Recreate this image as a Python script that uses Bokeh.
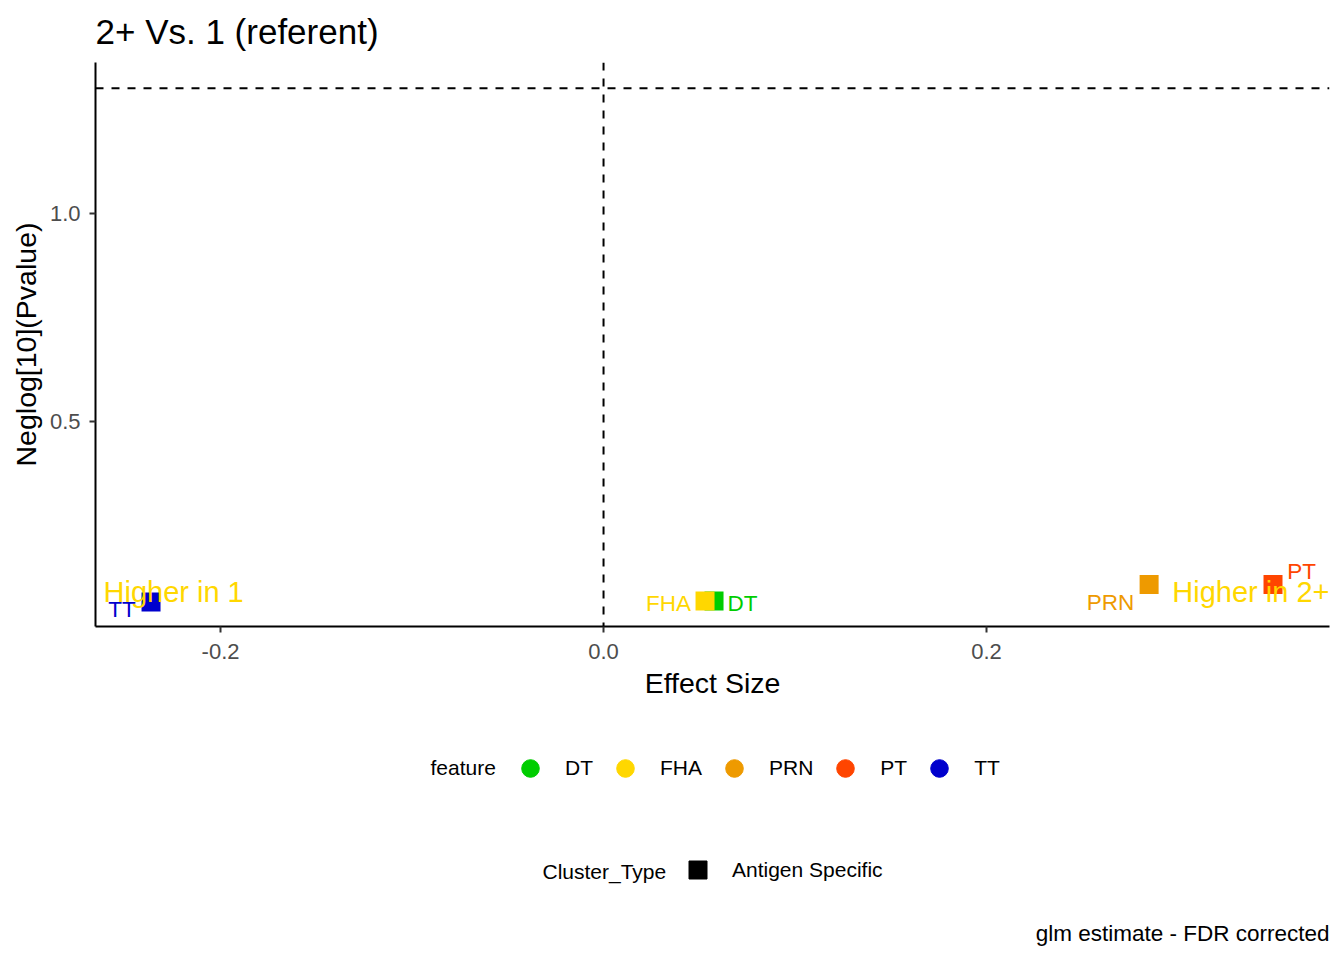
from bokeh.plotting import figure
from bokeh.models import ColumnDataSource, Range1d, Span, Label, Legend, LegendItem, FixedTicker
from bokeh.layouts import column
from bokeh.core.properties import value
from bokeh.embed import file_html
from bokeh.resources import INLINE

# ---------------- data ----------------
features = ["DT", "FHA", "PRN", "PT", "TT"]
effect_size = [0.0577, 0.0530, 0.2849, 0.3496, -0.2363]
neglog_p = [0.0685, 0.0685, 0.1082, 0.1082, 0.0661]
feature_colors = ["#00CD00", "#FFD700", "#EE9A00", "#FF4500", "#0000CD"]
cluster_types = ["Antigen Specific"]
sig_threshold = 1.30103  # -log10(0.05)
x_ticks = [-0.2, 0.0, 0.2]
x_tick_labels = ["-0.2", "0.0", "0.2"]
y_ticks = [0.5, 1.0]
y_tick_labels = ["0.5", "1.0"]
x_limits = [-0.2653, 0.3791]
y_limits = [0.0072, 1.3630]

# label offsets (pixels, repelled positions)
label_dx = [28.5, -36.5, -38.5, 28.5, -29.0]
label_dy = [2.5, 2.5, 18.0, -12.5, 8.0]

FONT = "Liberation Sans"
W = 1336
H1, H2 = 710, 242
ML, MR, MT, MB = 95, 7, 62, 84
FRAME_W = W - ML - MR
NAN = float("nan")

src = ColumnDataSource(dict(
    feature=features, x=effect_size, y=neglog_p, color=feature_colors,
    dx=label_dx, dy=label_dy,
))

p = figure(width=W, height=H1, x_range=Range1d(*x_limits), y_range=Range1d(*y_limits),
           output_backend="svg", toolbar_location=None,
           min_border_left=ML, min_border_right=MR, min_border_top=MT, min_border_bottom=MB)
p.outline_line_color = None
p.grid.visible = False
p.background_fill_color = "white"
p.border_fill_color = "white"

p.title.text = "2+ Vs. 1 (referent)"
p.title.text_font = FONT
p.title.text_font_size = "35px"
p.title.text_font_style = "normal"
p.title.text_color = "black"
p.title.align = "left"
p.title.vertical_align = "top"
p.title.offset = 0
p.title.standoff = 19

# reference lines
p.add_layout(Span(location=0.0, dimension="height", line_color="black", line_width=2, line_dash="8 8"))
p.add_layout(Span(location=sig_threshold, dimension="width", line_color="black", line_width=2, line_dash="8 8"))

# points
p.scatter(x="x", y="y", source=src, marker="square", size=19,
          fill_color="color", line_color="color", line_width=0)

# point labels
p.text(x="x", y="y", text="feature", source=src, x_offset="dx", y_offset="dy",
       text_color="color", text_font=value(FONT),
       text_font_size="22.5px", text_align="center", text_baseline="middle")

# direction annotations
p.add_layout(Label(x=8, y=35, x_units="screen", y_units="screen", text="Higher in 1",
                   text_color="#FFD700", text_font=FONT, text_font_size="29px",
                   text_align="left", text_baseline="middle"))
p.add_layout(Label(x=FRAME_W, y=35, x_units="screen", y_units="screen", text="Higher in 2+",
                   text_color="#FFD700", text_font=FONT, text_font_size="29px",
                   text_align="right", text_baseline="middle"))

# axes
p.xaxis.ticker = FixedTicker(ticks=x_ticks)
p.xaxis.major_label_overrides = {t: l for t, l in zip(x_ticks, x_tick_labels)}
p.yaxis.ticker = FixedTicker(ticks=y_ticks)
p.yaxis.major_label_overrides = {t: l for t, l in zip(y_ticks, y_tick_labels)}
p.xaxis.axis_label = "Effect Size"
p.yaxis.axis_label = "Neglog[10](Pvalue)"
for ax in (p.xaxis[0], p.yaxis[0]):
    ax.axis_line_color = "black"
    ax.axis_line_width = 2
    ax.major_tick_line_color = "#333333"
    ax.major_tick_line_width = 2
    ax.major_tick_out = 6
    ax.major_tick_in = 0
    ax.minor_tick_line_color = None
    ax.major_label_text_font = FONT
    ax.major_label_text_font_size = "22px"
    ax.major_label_text_color = "#4D4D4D"
    ax.axis_label_text_font = FONT
    ax.axis_label_text_font_size = "28.5px"
    ax.axis_label_text_font_style = "normal"
    ax.axis_label_text_color = "black"
p.xaxis.major_label_standoff = 11
p.xaxis.axis_label_standoff = 5
p.yaxis.major_label_standoff = 9
p.yaxis.axis_label_standoff = 5

# ---------------- legend / caption panel ----------------
# (frame of this panel is aligned with the main frame: x from 95 to 1329)
q = figure(width=W, height=H2, x_range=Range1d(0, 1), y_range=Range1d(0, 1),
           output_backend="svg", toolbar_location=None, min_border=0)
q.axis.visible = False
q.grid.visible = False
q.outline_line_color = None
q.background_fill_color = "white"
q.border_fill_color = "white"

feat_items = []
for f, c in zip(features, feature_colors):
    r = q.scatter(x=[NAN], y=[NAN], marker="circle", size=17, fill_color=c, line_color=c)
    feat_items.append(LegendItem(label=f, renderers=[r]))
leg1 = Legend(items=feat_items, orientation="horizontal", location=(413, 162),
              glyph_width=44, glyph_height=44, label_standoff=13, spacing=10,
              padding=0, margin=0, border_line_color=None, background_fill_alpha=0,
              label_text_font=FONT, label_text_font_size="21px", label_text_color="black")
q.add_layout(leg1)

ct_items = []
for ct in cluster_types:
    r = q.scatter(x=[NAN], y=[NAN], marker="square", size=18, fill_color="black", line_color="black")
    ct_items.append(LegendItem(label=ct, renderers=[r]))
leg2 = Legend(items=ct_items, orientation="horizontal", location=(580, 60),
              glyph_width=45, glyph_height=45, label_standoff=12, spacing=10,
              padding=0, margin=0, border_line_color=None, background_fill_alpha=0,
              label_text_font=FONT, label_text_font_size="21px", label_text_color="black")
q.add_layout(leg2)

q.add_layout(Label(x=335, y=185, x_units="screen", y_units="screen", text="feature",
                   text_font=FONT, text_font_size="21px", text_color="black",
                   text_align="left", text_baseline="middle"))
q.add_layout(Label(x=447, y=81, x_units="screen", y_units="screen", text="Cluster_Type",
                   text_font=FONT, text_font_size="21px", text_color="black",
                   text_align="left", text_baseline="middle"))
q.add_layout(Label(x=FRAME_W, y=19, x_units="screen", y_units="screen",
                   text="glm estimate - FDR corrected",
                   text_font=FONT, text_font_size="22.5px", text_color="black",
                   text_align="right", text_baseline="middle"))

layout = column(p, q, spacing=0)
open("out.html", "w").write(file_html(layout, INLINE))
